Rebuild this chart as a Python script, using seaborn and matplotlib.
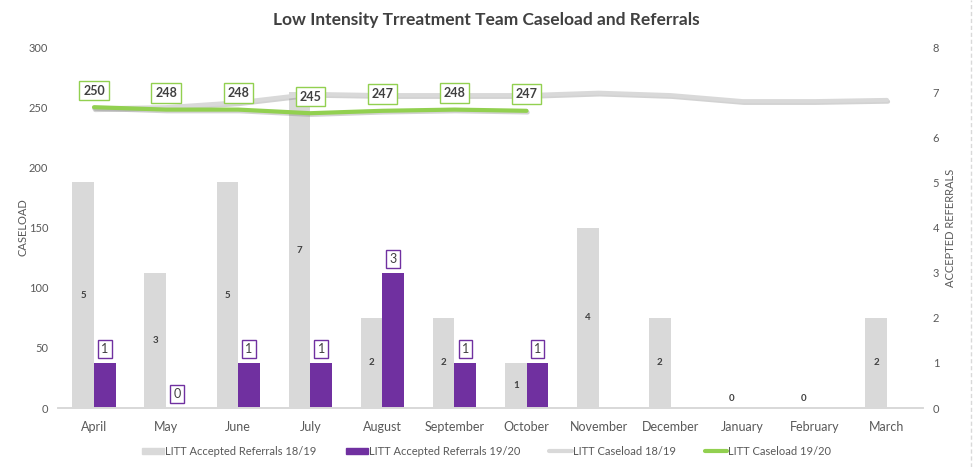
import numpy as np
import pandas as pd
import seaborn as sns
import matplotlib.pyplot as plt
import matplotlib.patheffects as pe
from matplotlib.patches import Patch
from matplotlib.lines import Line2D

months = ['April', 'May', 'June', 'July', 'August', 'September', 'October',
          'November', 'December', 'January', 'February', 'March']
referrals_1819 = [5, 3, 5, 7, 2, 2, 1, 4, 2, 0, 0, 2]
referrals_1920 = [1, 0, 1, 1, 3, 1, 1, np.nan, np.nan, np.nan, np.nan, np.nan]
caseload_1819 = [249, 250, 254, 261, 260, 260, 260, 262, 260, 255, 255, 256]
caseload_1920 = [250, 248, 248, 245, 247, 248, 247]

series = ['LITT Accepted Referrals 18/19', 'LITT Accepted Referrals 19/20',
          'LITT Caseload 18/19', 'LITT Caseload 19/20']

GREY = '#d9d9d9'
PURPLE = '#7030a0'
GREEN = '#92d050'
TXT = '#595959'

sns.set_theme(style='white')
plt.rcParams['font.family'] = ['Lato', 'DejaVu Sans']

bars = pd.DataFrame({
    'month': months * 2,
    'series': [series[0]] * 12 + [series[1]] * 12,
    'value': referrals_1819 + referrals_1920,
})

fig = plt.figure(figsize=(9.73, 4.67), dpi=100)
ax = fig.add_axes([0.0596, 0.1263, 0.889, 0.773])
ax2 = ax.twinx()

# bars on the right-hand (referrals) axis
sns.barplot(data=bars, x='month', y='value', hue='series', order=months,
            hue_order=series[:2], palette=[GREY, PURPLE], saturation=1,
            width=0.6, errorbar=None, linewidth=0, legend=False, ax=ax2)

for bar in ax2.containers[0]:
    h = bar.get_height()
    if np.isnan(h):
        continue
    ax2.text(bar.get_x() + bar.get_width() / 2, max(h / 2, 0.22), str(int(h)),
             ha='center', va='center', fontsize=7, fontweight='bold', color='#404040')

for bar in ax2.containers[1]:
    h = bar.get_height()
    if np.isnan(h):
        continue
    ax2.annotate(str(int(h)), (bar.get_x() + bar.get_width() / 2, h),
                 xytext=(0, 10), textcoords='offset points', ha='center', va='center',
                 fontsize=9, color='#404040',
                 bbox=dict(boxstyle='square,pad=0.25', fc='white', ec=PURPLE, lw=1))

# lines on the left-hand (caseload) axis, drawn above the bars
shadow = [pe.SimpleLineShadow(offset=(0.8, -1.2), shadow_color='#808080', alpha=0.35), pe.Normal()]
sns.lineplot(x=np.arange(len(caseload_1819)), y=caseload_1819, color=GREY, lw=3,
             ax=ax, path_effects=shadow)
sns.lineplot(x=np.arange(len(caseload_1920)), y=caseload_1920, color=GREEN, lw=3,
             ax=ax, path_effects=shadow)

for i, v in enumerate(caseload_1920):
    ax.annotate(str(v), (i, v), xytext=(0, 12), textcoords='offset points',
                ha='center', va='center', fontsize=9, fontweight='bold', color='#404040',
                bbox=dict(boxstyle='square,pad=0.3', fc='white', ec=GREEN, lw=1))

ax.set_zorder(ax2.get_zorder() + 1)
ax.patch.set_visible(False)

ax.set_xlim(-0.5, len(months) - 0.5)
ax.set_xticks(range(len(months)))
ax.set_xticklabels(months)
ax.set_ylim(0, 300)
ax.set_yticks(range(0, 301, 50))
ax2.set_ylim(0, 8)
ax2.set_yticks(range(0, 9))

ax.set_xlabel('')
ax.set_ylabel('CASELOAD', fontsize=8, color=TXT)
ax2.set_ylabel('ACCEPTED REFERRALS', fontsize=8, color=TXT)
ax.yaxis.set_label_coords(-0.034, 0.5)
ax2.yaxis.set_label_coords(1.025, 0.5)
ax.tick_params(axis='x', labelsize=9, colors=TXT, length=0, pad=9)
ax.tick_params(axis='y', labelsize=8, colors=TXT, length=0, pad=7)
ax2.tick_params(axis='y', labelsize=8, colors=TXT, length=0, pad=7)

for a in (ax, ax2):
    for s in ('top', 'left', 'right'):
        a.spines[s].set_visible(False)
    a.spines['bottom'].set_color(GREY)
    a.grid(False)

fig.suptitle('Low Intensity Trreatment Team Caseload and Referrals',
             x=0.5, y=0.975, fontsize=12.5, fontweight='bold', color='#404040')

handles = [Patch(color=GREY), Patch(color=PURPLE),
           Line2D([], [], color=GREY, lw=3), Line2D([], [], color=GREEN, lw=3)]
fig.legend(handles, series, loc='center', bbox_to_anchor=(0.5, 0.034), ncol=4,
           frameon=False, fontsize=8, handlelength=2.0, handleheight=0.5,
           handletextpad=0.1, columnspacing=2.6, labelcolor=TXT)

fig.add_artist(Line2D([0.998, 0.998], [0, 1], transform=fig.transFigure,
                      ls=(0, (3, 2)), color=GREY, lw=1))

fig.savefig('out.png', dpi=100)
